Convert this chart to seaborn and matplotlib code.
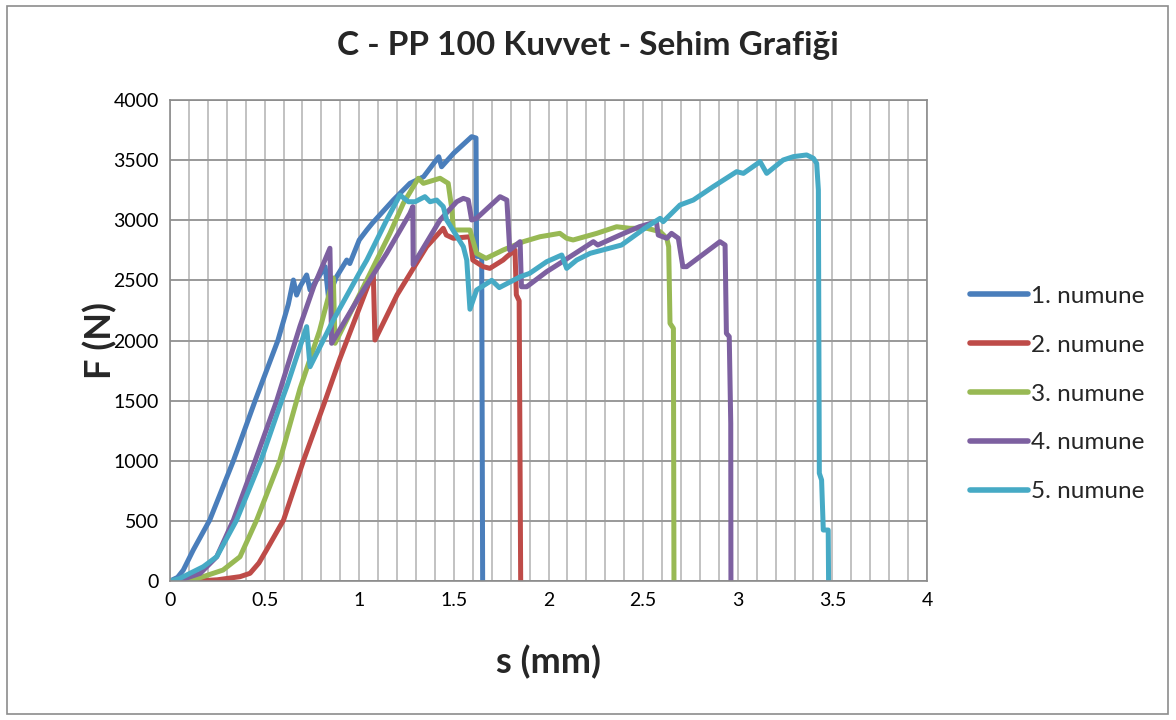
import matplotlib
matplotlib.use("Agg")
import matplotlib.pyplot as plt
from matplotlib.patches import Rectangle
from matplotlib.ticker import MultipleLocator
import numpy as np
import pandas as pd
import seaborn as sns

# Deflection (mm) and force (N) for each specimen
s_1 = [0.0, 0.04, 0.07, 0.123, 0.21, 0.335, 0.45, 0.57, 0.625, 0.652, 0.669, 0.687, 0.722, 0.74,
       0.82, 0.837, 0.88, 0.934, 0.95, 1.0, 1.04, 1.07, 1.18, 1.268, 1.34, 1.42, 1.435, 1.50,
       1.594, 1.617, 1.62, 1.647, 1.652]
F_1 = [0, 30, 90, 258, 507, 1000, 1500, 2000, 2300, 2503, 2378, 2447, 2545, 2420,
       2614, 2364, 2530, 2669, 2640, 2836, 2919, 2977, 3168, 3307, 3362, 3528, 3445, 3559,
       3695, 3684, 2700, 2697, 0]

s_2 = [0.0, 0.14, 0.25, 0.37, 0.423, 0.47, 0.51, 0.60, 0.705, 0.82, 0.898, 1.074, 1.083, 1.2,
       1.356, 1.444, 1.46, 1.497, 1.585, 1.60, 1.655, 1.69, 1.76, 1.78, 1.823, 1.83, 1.845, 1.853]
F_2 = [0, 0, 10, 36, 64, 150, 258, 507, 1000, 1500, 1850, 2570, 2004, 2380,
       2780, 2933, 2877, 2850, 2863, 2669, 2614, 2600, 2669, 2697, 2752, 2380, 2330, 0]

s_3 = [0.0, 0.106, 0.28, 0.37, 0.458, 0.58, 0.687, 0.79, 0.863, 0.872, 1.04, 1.162, 1.233, 1.312,
       1.339, 1.427, 1.47, 1.49, 1.497, 1.585, 1.62, 1.67, 1.76, 1.867, 1.955, 2.06, 2.096, 2.13,
       2.255, 2.36, 2.43, 2.52, 2.59, 2.625, 2.635, 2.642, 2.66, 2.663]
F_3 = [0, 0, 91, 202, 507, 1000, 1600, 2080, 2520, 1977, 2503, 2891, 3141, 3349,
       3307, 3349, 3307, 3085, 2919, 2919, 2725, 2683, 2752, 2822, 2863, 2891, 2850, 2836,
       2891, 2946, 2933, 2933, 2905, 2850, 2780, 2143, 2101, 0]

s_4 = [0.0, 0.05, 0.16, 0.247, 0.335, 0.45, 0.564, 0.687, 0.76, 0.845, 0.854, 1.0, 1.145, 1.268,
       1.283, 1.285, 1.427, 1.515, 1.55, 1.576, 1.594, 1.62, 1.744, 1.78, 1.795, 1.85, 1.857, 1.885,
       1.99, 2.06, 2.237, 2.26, 2.378, 2.48, 2.57, 2.58, 2.625, 2.65, 2.686, 2.71, 2.73, 2.906,
       2.933, 2.94, 2.955, 2.963, 2.964]
F_4 = [0, 5, 64, 202, 507, 1000, 1500, 2120, 2450, 2767, 1977, 2364, 2725, 3058,
       3113, 2630, 3002, 3154, 3182, 3168, 3002, 3016, 3196, 3168, 2752, 2822, 2447, 2447,
       2572, 2642, 2822, 2794, 2877, 2946, 2988, 2877, 2850, 2891, 2850, 2614, 2614, 2822,
       2794, 2060, 2032, 1311, 0]

s_5 = [0.0, 0.05, 0.106, 0.176, 0.247, 0.352, 0.48, 0.59, 0.617, 0.722, 0.74, 0.863, 1.0, 1.04,
       1.145, 1.215, 1.26, 1.295, 1.347, 1.374, 1.409, 1.444, 1.462, 1.506, 1.55, 1.568, 1.585,
       1.62, 1.70, 1.74, 1.85, 1.90, 1.99, 2.07, 2.096, 2.149, 2.22, 2.386, 2.52, 2.59, 2.606,
       2.695, 2.765, 2.87, 2.994, 3.03, 3.118, 3.153, 3.24, 3.294, 3.364, 3.40, 3.417, 3.426,
       3.431, 3.443, 3.452, 3.478, 3.48]
F_5 = [0, 20, 64, 119, 202, 507, 1000, 1500, 1616, 2115, 1782, 2170, 2560, 2669,
       3002, 3210, 3154, 3154, 3196, 3154, 3168, 3113, 3002, 2891, 2780, 2669, 2260,
       2420, 2500, 2440, 2530, 2558, 2655, 2711, 2600, 2669, 2725, 2794, 2946, 3016, 2988,
       3127, 3168, 3279, 3404, 3390, 3487, 3390, 3501, 3529, 3543, 3515, 3473, 3252,
       896, 840, 424, 424, 0]

labels = ["1. numune", "2. numune", "3. numune", "4. numune", "5. numune"]
colors = ["#4A7EBB", "#BE4B48", "#98B954", "#7D60A0", "#46AAC5"]
x_ticks = [0, 0.5, 1, 1.5, 2, 2.5, 3, 3.5, 4]
x_tick_labels = ["0", "0.5", "1", "1.5", "2", "2.5", "3", "3.5", "4"]

frames = []
for lab, s, f in zip(labels, [s_1, s_2, s_3, s_4, s_5], [F_1, F_2, F_3, F_4, F_5]):
    frames.append(pd.DataFrame({"s": s, "F": f, "numune": lab}))
df = pd.concat(frames, ignore_index=True)

sns.set_theme(style="white")
plt.rcParams["font.family"] = ["Lato", "DejaVu Sans"]

fig = plt.figure(figsize=(11.76, 7.2), dpi=100)
ax = fig.add_axes([170 / 1176, 1 - 581 / 720, (927 - 170) / 1176, (581 - 100) / 720])

sns.lineplot(data=df, x="s", y="F", hue="numune", palette=colors, sort=False,
             estimator=None, units="numune", linewidth=3.6, ax=ax, legend=True)

ax.set_xlim(0, 4)
ax.set_ylim(0, 4000)
ax.set_xticks(x_ticks, x_tick_labels)
ax.xaxis.set_minor_locator(MultipleLocator(0.1))
ax.yaxis.set_major_locator(MultipleLocator(500))

ax.grid(False)
ax.xaxis.grid(True, which="both", color="#BDBDBD", linewidth=1.3)
ax.yaxis.grid(True, which="major", color="#999999", linewidth=1.4)
ax.set_axisbelow(True)
for sp in ax.spines.values():
    sp.set_color("#8C8C8C")
    sp.set_linewidth(1.2)

ax.tick_params(axis="both", which="both", length=0, labelsize=14, pad=8, colors="black")

ax.set_xlabel("s (mm)", fontsize=26, fontweight="bold", labelpad=26)
ax.set_ylabel("F (N)", fontsize=26, fontweight="bold", labelpad=-3)
fig.text(0.5, 1 - 45 / 720, "C - PP 100 Kuvvet - Sehim Grafiği", ha="center", va="center",
         fontsize=24, fontweight="bold")

handles, labs = ax.get_legend_handles_labels()
for h in handles:
    h.set_linewidth(4.0)
ax.legend(handles, labs, loc="center left", bbox_to_anchor=(970 / 1176, 1 - 394 / 720),
          bbox_transform=fig.transFigure, frameon=False, fontsize=17.5,
          handlelength=2.4, handletextpad=0.12, labelspacing=1.15, borderpad=0,
          borderaxespad=0)

fig.patches.append(Rectangle((7 / 1176, 6 / 720), 1161 / 1176, 708 / 720,
                             transform=fig.transFigure, fill=False,
                             edgecolor="#8C8C8C", linewidth=1.2))

fig.savefig("out.png", dpi=100)
